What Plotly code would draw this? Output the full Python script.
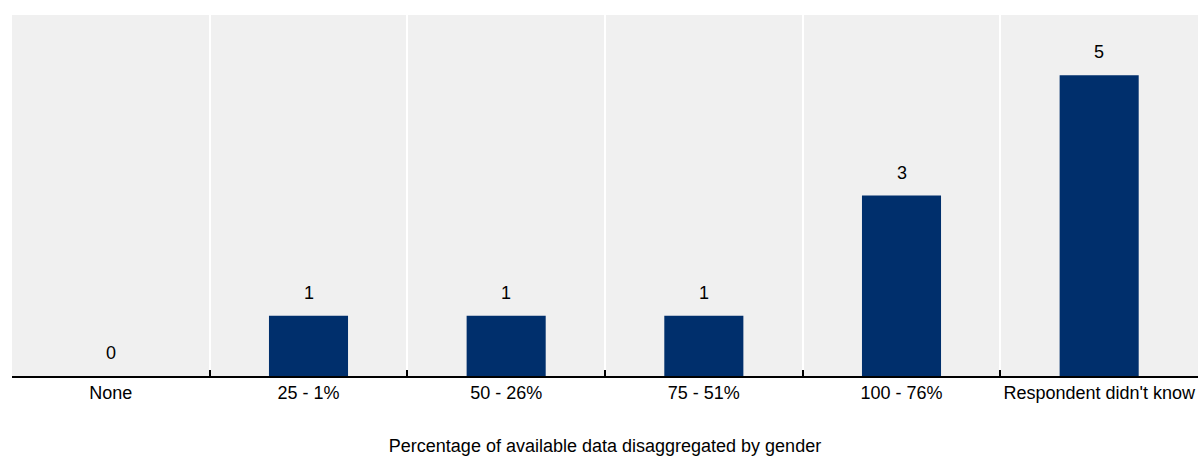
import plotly.graph_objects as go

categories = ["None", "25 - 1%", "50 - 26%", "75 - 51%", "100 - 76%", "Respondent didn't know"]
counts = [0, 1, 1, 1, 3, 5]
x_title = "Percentage of available data disaggregated by gender"

bar_color = "#002F6C"
font = dict(family="Liberation Sans, Arial, sans-serif", size=18, color="#000000")

fig = go.Figure(
    go.Bar(
        x=categories,
        y=counts,
        marker=dict(color=bar_color, line=dict(width=0)),
        width=0.4,
        hoverinfo="x+y",
    )
)

# value labels above each bar
for cat, val in zip(categories, counts):
    fig.add_annotation(
        x=cat, y=val, text=str(val), showarrow=False,
        yanchor="bottom", yshift=11, font=font,
    )

fig.update_layout(
    width=1200,
    height=456,
    margin=dict(l=12, r=2, t=15, b=80),
    plot_bgcolor="#F0F0F0",
    paper_bgcolor="#FFFFFF",
    font=font,
    showlegend=False,
    bargap=0.6,
)
fig.update_xaxes(
    type="category",
    tickson="boundaries",
    ticks="inside",
    ticklen=6,
    tickwidth=1.5,
    tickcolor="#000000",
    tickangle=0,
    automargin=False,
    showline=True,
    linecolor="#000000",
    linewidth=1.5,
    showgrid=True,
    gridcolor="#FFFFFF",
    gridwidth=2,
    tickfont=font,
    title=dict(text=x_title, font=font, standoff=37),
)
fig.update_yaxes(
    range=[0, 6],
    showticklabels=False,
    showgrid=False,
    zeroline=False,
    ticks="",
    automargin=False,
)

fig.write_html("out.html")
